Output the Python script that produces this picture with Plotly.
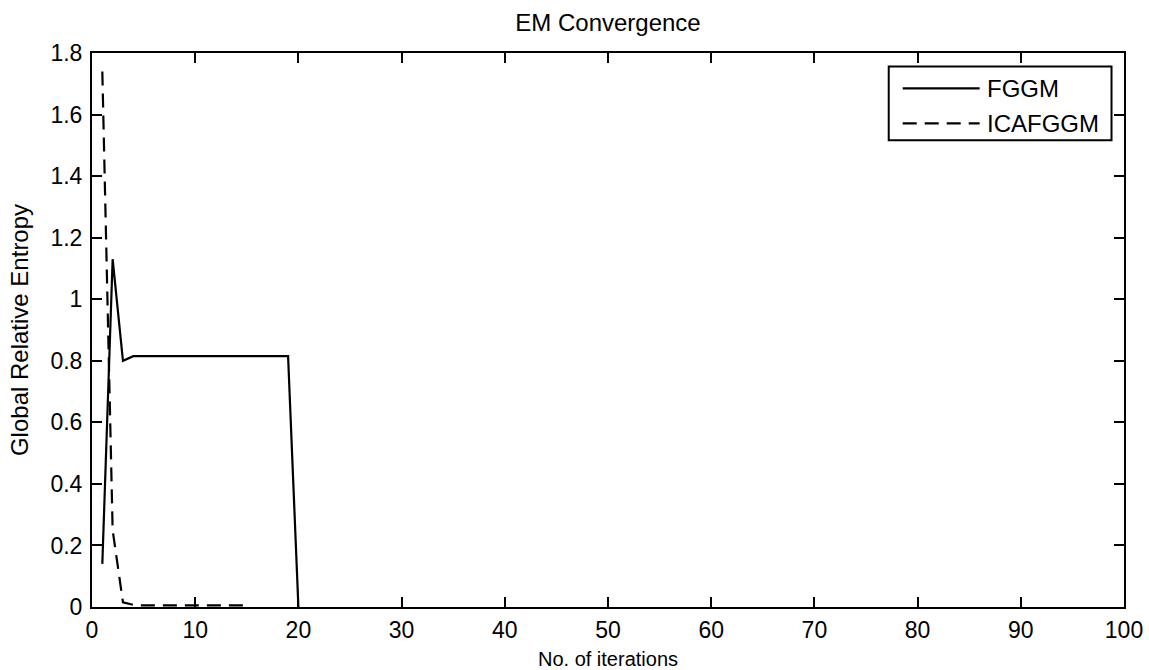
import plotly.graph_objects as go

# ---- data ----
fggm_iter = [1, 2, 3, 4, 5, 6, 7, 8, 9, 10, 11, 12, 13, 14, 15, 16, 17, 18, 19, 20]
fggm_vals = [0.14, 1.13, 0.80, 0.815, 0.815, 0.815, 0.815, 0.815, 0.815, 0.815,
             0.815, 0.815, 0.815, 0.815, 0.815, 0.815, 0.815, 0.815, 0.815, 0.0]

ica_iter = [1, 2, 3, 4, 5, 6, 7, 8, 9, 10, 11, 12, 13, 14, 15]
ica_vals = [1.74, 0.25, 0.015, 0.007, 0.005, 0.005, 0.005, 0.005, 0.005, 0.005,
            0.005, 0.005, 0.005, 0.005, 0.005]

series_names = ["FGGM", "ICAFGGM"]
x_ticks = [0, 10, 20, 30, 40, 50, 60, 70, 80, 90, 100]
y_ticks = [0, 0.2, 0.4, 0.6, 0.8, 1.0, 1.2, 1.4, 1.6, 1.8]

FONT = "Liberation Sans, Arial, Helvetica, sans-serif"
DASH = "14px,8px"

fig = go.Figure()
fig.add_trace(go.Scatter(x=fggm_iter, y=fggm_vals, mode="lines", name=series_names[0],
                         line=dict(color="black", width=2.2), showlegend=False))
fig.add_trace(go.Scatter(x=ica_iter, y=ica_vals, mode="lines", name=series_names[1],
                         line=dict(color="black", width=2.2, dash=DASH), showlegend=False))

# manual MATLAB-style legend
L, R = 91.5, 1124.5
T, B = 52.5, 607.5
W, H = R - L, B - T
def px(x):
    return (x - L) / W
def py(y):
    return (B - y) / H

fig.add_shape(type="rect", xref="paper", yref="paper",
              x0=px(889), x1=px(1112), y0=py(140), y1=py(66),
              line=dict(color="black", width=2), fillcolor="white", layer="above")
fig.add_shape(type="line", xref="paper", yref="paper",
              x0=px(903), x1=px(980), y0=py(88), y1=py(88),
              line=dict(color="black", width=2.2))
fig.add_shape(type="line", xref="paper", yref="paper",
              x0=px(903), x1=px(980), y0=py(123), y1=py(123),
              line=dict(color="black", width=2.2, dash=DASH))
for name, yy in zip(series_names, [88, 123]):
    fig.add_annotation(xref="paper", yref="paper", x=px(985), y=py(yy),
                       text=name, showarrow=False, xanchor="left", yanchor="middle",
                       font=dict(family=FONT, size=24, color="black"))

axis_common = dict(showline=True, linecolor="black", linewidth=2, mirror="ticks",
                   ticks="inside", ticklen=10, tickwidth=1.8, tickcolor="black",
                   showgrid=False, zeroline=False,
                   tickfont=dict(family=FONT, size=23, color="black"))

fig.update_xaxes(range=[0, 100], tickvals=x_ticks, ticklabelstandoff=1,
                 title=dict(text="No. of iterations", standoff=11,
                            font=dict(family=FONT, size=20, color="black")),
                 **axis_common)
fig.update_yaxes(range=[0, 1.8], tickvals=y_ticks, ticklabelstandoff=3,
                 title=dict(text="Global Relative Entropy", standoff=15,
                            font=dict(family=FONT, size=24, color="black")),
                 **axis_common)

fig.update_layout(
    width=1149, height=670,
    margin=dict(l=L, r=1149 - R, t=T, b=670 - B, autoexpand=False),
    paper_bgcolor="white", plot_bgcolor="white",
    title=dict(text="EM Convergence", x=0.5, xref="paper", y=1 - 23 / 670, yanchor="middle",
               font=dict(family=FONT, size=24, color="black")),
    showlegend=False,
)

fig.write_html("out.html", config={"displayModeBar": False},
               post_script="document.body.style.margin='0px';document.body.style.overflow='hidden';")
